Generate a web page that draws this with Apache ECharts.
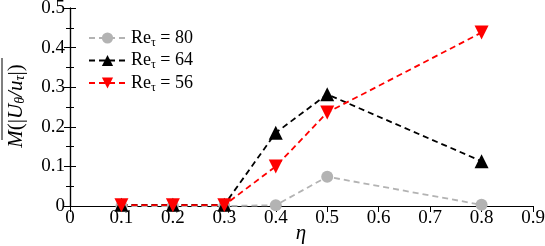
<!DOCTYPE html>
<html><head><meta charset="utf-8">
<script src="https://cdn.jsdelivr.net/npm/echarts@6/dist/echarts.min.js"></script>
<style>html,body{margin:0;padding:0;background:#fff}#c{width:545px;height:246px}</style>
</head><body><div id="c"></div>
<script>
const etaValues = [0.1, 0.2, 0.3, 0.4, 0.5, 0.8];
const re80 = [0, 0, 0, 0.002, 0.074, 0.003];
const re64 = [0.003, 0.003, 0.003, 0.185, 0.282, 0.113];
const re56 = [0.002, 0.002, 0.002, 0.1, 0.236, 0.438];
const seriesNames = ['Re\u03c4 = 80', 'Re\u03c4 = 64', 'Re\u03c4 = 56'];
const xTicks = [0, 0.1, 0.2, 0.3, 0.4, 0.5, 0.6, 0.7, 0.8, 0.9];
const yTicks = [0, 0.1, 0.2, 0.3, 0.4, 0.5];
const xTitle = '\u03b7';

const FONT = 'Liberation Serif';
const chart = echarts.init(document.getElementById('c'));
const pairs = v => etaValues.map((x, i) => [x, v[i]]);
const axisCommon = {
  axisLine: {lineStyle: {color: '#000', width: 1.2}},
  splitLine: {show: false},
};
function mk(name, data, color, symbol, size, rot) {
  return {
    name, type: 'line', data: pairs(data), symbol, symbolSize: size, symbolRotate: rot || 0,
    lineStyle: {color, width: 1.8, type: [6, 4]}, itemStyle: {color},
    animation: false, z: 3
  };
}
chart.setOption({
  animation: false,
  textStyle: {fontFamily: FONT},
  grid: {left: 70, right: 12, top: 8, bottom: 40, containLabel: false, outerBoundsMode: 'none'},
  legend: {
    orient: 'vertical', left: 83, top: 24, itemGap: 3, itemWidth: 37, itemHeight: 14,
    textStyle: {fontFamily: FONT, fontSize: 18, color: '#000',
      rich: {a: {fontFamily: FONT, fontSize: 18}, s: {fontFamily: FONT, fontSize: 12, verticalAlign: 'bottom', padding: [9, 0, 0, 0]}}},
    formatter: n => '{a|Re}{s|\u03c4}{a| ' + n.split(' ').slice(1).join(' ') + '}',
    data: seriesNames
  },
  xAxis: [{
    type: 'value', min: 0, max: 0.9, interval: 0.1, ...axisCommon,
    axisTick: {show: false},
    axisLabel: {fontFamily: FONT, fontSize: 19, color: '#000', margin: 3,
      formatter: v => { const t = xTicks.find(t => Math.abs(t - v) < 1e-6); return t === 0 ? '0' : String(t); }}
  }, {
    type: 'value', position: 'top', min: 0, max: 0.9, interval: 0.1, ...axisCommon,
    axisTick: {inside: true, length: 6, lineStyle: {color: '#000'}},
    axisLabel: {show: false}
  }],
  yAxis: [{
    type: 'value', min: 0, max: 0.5, interval: 0.1, ...axisCommon,
    axisTick: {inside: true, length: 6, lineStyle: {color: '#000'}},
    minorTick: {show: true, splitNumber: 2, length: 4, lineStyle: {color: '#000'}},
    axisLabel: {fontFamily: FONT, fontSize: 19, color: '#000', margin: 5,
      formatter: v => { const t = yTicks.find(t => Math.abs(t - v) < 1e-6); return t === 0 ? '0' : String(t); }}
  }, {
    type: 'value', position: 'right', min: 0, max: 0.5, interval: 0.1, ...axisCommon,
    axisTick: {inside: true, length: 6, lineStyle: {color: '#000'}},
    minorTick: {show: true, splitNumber: 2, length: 4, lineStyle: {color: '#000'}},
    axisLabel: {show: false}
  }],
  series: [
    mk(seriesNames[0], re80, '#b3b3b3', 'circle', 12),
    mk(seriesNames[1], re64, '#000000', 'triangle', 14),
    mk(seriesNames[2], re56, '#ff0000', 'triangle', 14, 180)
  ],
  graphic: [{
    type: 'text', x: 301, y: 233,
    style: {text: xTitle, align: 'center', verticalAlign: 'middle',
      font: 'italic 21px "Liberation Serif"', fill: '#000'}
  }, {
    type: 'group', x: 16, y: 106, rotation: Math.PI / 2,
    children: [{
      type: 'text', x: 0, y: 0,
      style: {
        text: '{i|M}{n|(|}{i|U}{sb|\u03b8}{i|/u}{sb|\u03c4}{n||)}',
        align: 'center', verticalAlign: 'middle',
        rich: {
          i: {fontFamily: FONT, fontSize: 21, fontStyle: 'italic', fill: '#000'},
          n: {fontFamily: FONT, fontSize: 21, fill: '#000'},
          sb: {fontFamily: FONT, fontSize: 14, fontStyle: 'italic', fill: '#000', padding: [9, 0, 0, 0]}
        }
      }
    }, {
      type: 'line', shape: {x1: -34, y1: -14, x2: 48, y2: -14}, style: {stroke: '#000', lineWidth: 1}
    }]
  }]
});
</script></body></html>
